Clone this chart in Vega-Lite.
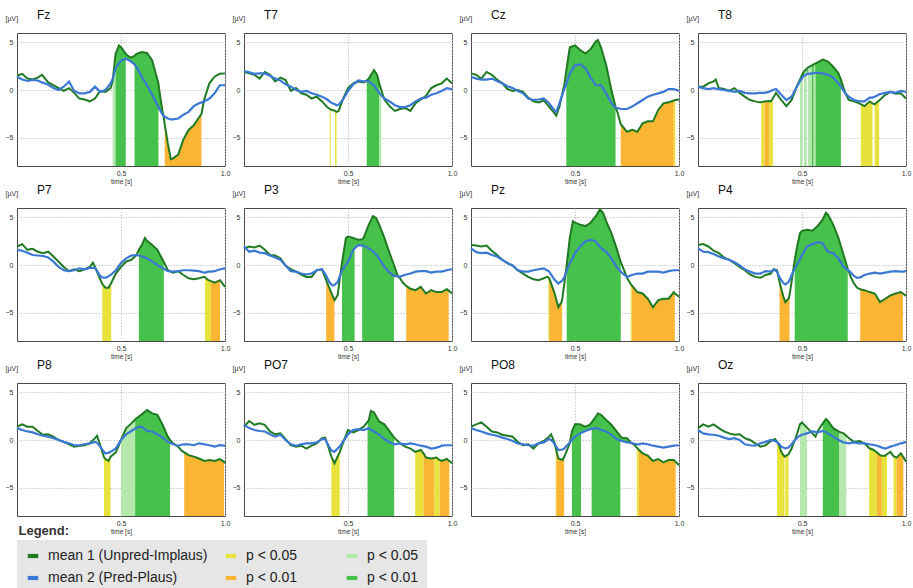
{
"$schema":"https://vega.github.io/schema/vega-lite/v6.json",
"padding":{"left":4,"top":8,"right":2,"bottom":0},
"background":"white",
"title":{"text":"Legend:","orient":"top","anchor":"start","frame":"bounds","offset":0,"dy":529,"dx":14,"fontSize":13,"fontWeight":"bold","color":"#333","font":"Liberation Sans"},
"config":{"font":"Liberation Sans","view":{"stroke":"#4a4a4a","strokeWidth":1},
 "style":{"guide-label":{"dx":20}},
 "axis":{"labelFont":"Liberation Sans","labelColor":"#333","labelFontSize":7,"gridColor":"#bdbdbd","gridDash":[1.5,1.5],"gridWidth":0.8,"domain":false,"ticks":false,"titleFont":"Liberation Sans","titleFontWeight":"normal","titleColor":"#333"}},
"data":{"values":[
{"c":"Fz","t":0,"a":1.5,"b":1.4},{"c":"Fz","t":0.025,"a":1.7,"b":1.1},{"c":"Fz","t":0.05,"a":1.2,"b":0.95},{"c":"Fz","t":0.075,"a":1.1,"b":1.05},{"c":"Fz","t":0.1,"a":1.3,"b":1.0},{"c":"Fz","t":0.12,"a":1.6,"b":0.8},{"c":"Fz","t":0.15,"a":0.8,"b":0.55},{"c":"Fz","t":0.175,"a":0.5,"b":0.2},{"c":"Fz","t":0.2,"a":0.2,"b":0},{"c":"Fz","t":0.225,"a":-0.1,"b":0.35},{"c":"Fz","t":0.25,"a":0.2,"b":0.9},{"c":"Fz","t":0.275,"a":-0.3,"b":-0.1},{"c":"Fz","t":0.3,"a":-0.9,"b":-0.35},{"c":"Fz","t":0.325,"a":-1.0,"b":-0.35},{"c":"Fz","t":0.35,"a":-1.2,"b":-0.2},{"c":"Fz","t":0.375,"a":-0.9,"b":0.35},{"c":"Fz","t":0.4,"a":-0.1,"b":-0.2},{"c":"Fz","t":0.425,"a":-0.2,"b":0},{"c":"Fz","t":0.45,"a":0.2,"b":0.7},
{"c":"Fz","t":0.46,"a":1.0,"b":1.2,"s":"l05","k":1,"f":1},{"c":"Fz","t":0.474,"a":3.8,"b":2.3,"s":"l05","k":1,"f":1},{"c":"Fz","t":0.474,"a":3.8,"b":2.3,"s":"g01","k":2},{"c":"Fz","t":0.49,"a":4.7,"b":2.8,"s":"g01","k":2,"f":1},{"c":"Fz","t":0.5,"a":4.5,"b":3.1,"s":"g01","k":2,"f":1},{"c":"Fz","t":0.523,"a":3.8,"b":3.3,"s":"g01","k":2,"f":1},{"c":"Fz","t":0.545,"a":3.4,"b":3.05,"f":1},{"c":"Fz","t":0.565,"a":3.6,"b":2.7,"s":"g01","k":3,"f":1},{"c":"Fz","t":0.575,"a":3.8,"b":2.4,"s":"g01","k":3,"f":1},{"c":"Fz","t":0.6,"a":4.0,"b":1.4,"s":"g01","k":3,"f":1},{"c":"Fz","t":0.625,"a":3.9,"b":0.5,"s":"g01","k":3,"f":1},{"c":"Fz","t":0.65,"a":3.1,"b":-0.5,"s":"g01","k":3,"f":1},{"c":"Fz","t":0.68,"a":0.7,"b":-1.8,"s":"g01","k":3,"f":1},{"c":"Fz","t":0.69,"a":-0.9,"b":-2.2,"f":1},{"c":"Fz","t":0.7,"a":-2.3,"b":-2.6,"f":1},{"c":"Fz","t":0.705,"a":-2.75,"b":-2.75,"f":1},
{"c":"Fz","t":0.71,"a":-3.6,"b":-2.8,"s":"o01","k":4},{"c":"Fz","t":0.725,"a":-5.6,"b":-3.0,"s":"o01","k":4},{"c":"Fz","t":0.74,"a":-7.3,"b":-3.1,"s":"o01","k":4},{"c":"Fz","t":0.75,"a":-7.2,"b":-3.1,"s":"o01","k":4},{"c":"Fz","t":0.775,"a":-6.8,"b":-3.0,"s":"o01","k":4},{"c":"Fz","t":0.8,"a":-5.2,"b":-2.6,"s":"o01","k":4},{"c":"Fz","t":0.825,"a":-4.2,"b":-2.3,"s":"o01","k":4},{"c":"Fz","t":0.85,"a":-3.7,"b":-1.7,"s":"o01","k":4},{"c":"Fz","t":0.875,"a":-2.9,"b":-1.4,"s":"o01","k":4},{"c":"Fz","t":0.887,"a":-2.5,"b":-1.3,"s":"o01","k":4},
{"c":"Fz","t":0.9,"a":-1.0,"b":-1.2},{"c":"Fz","t":0.925,"a":0.7,"b":-0.9},{"c":"Fz","t":0.95,"a":1.4,"b":-0.35},{"c":"Fz","t":0.975,"a":1.7,"b":0.5},{"c":"Fz","t":1,"a":1.75,"b":0.5},

{"c":"T7","t":0,"a":1.9,"b":2.0},{"c":"T7","t":0.025,"a":1.75,"b":1.85},{"c":"T7","t":0.05,"a":1.6,"b":1.7},{"c":"T7","t":0.075,"a":1.2,"b":1.75},{"c":"T7","t":0.1,"a":1.9,"b":1.75},{"c":"T7","t":0.125,"a":1.6,"b":1.5},{"c":"T7","t":0.15,"a":0.9,"b":1.2},{"c":"T7","t":0.175,"a":1.3,"b":1.0},{"c":"T7","t":0.2,"a":1.05,"b":0.6},{"c":"T7","t":0.225,"a":-0.1,"b":0.35},{"c":"T7","t":0.25,"a":0.2,"b":0},{"c":"T7","t":0.275,"a":-0.35,"b":-0.2},{"c":"T7","t":0.3,"a":-0.5,"b":-0.1},{"c":"T7","t":0.325,"a":-0.9,"b":-0.35},{"c":"T7","t":0.35,"a":-0.7,"b":-0.5},{"c":"T7","t":0.375,"a":-1.2,"b":-0.7},{"c":"T7","t":0.4,"a":-1.8,"b":-1.0},
{"c":"T7","t":0.412,"a":-2.0,"b":-1.2,"s":"y05","k":1},{"c":"T7","t":0.417,"a":-2.05,"b":-1.3,"s":"y05","k":1},{"c":"T7","t":0.425,"a":-2.1,"b":-1.4},{"c":"T7","t":0.438,"a":-2.2,"b":-1.5,"s":"y05","k":2},{"c":"T7","t":0.445,"a":-2.3,"b":-1.6,"s":"y05","k":2},{"c":"T7","t":0.455,"a":-2.2,"b":-1.55},{"c":"T7","t":0.475,"a":-1.0,"b":-1.05},{"c":"T7","t":0.5,"a":0.2,"b":-0.1},{"c":"T7","t":0.525,"a":0.7,"b":0.6},{"c":"T7","t":0.55,"a":0.9,"b":1.0},{"c":"T7","t":0.575,"a":0.8,"b":0.9},
{"c":"T7","t":0.59,"a":1.0,"b":0.9,"s":"g01","k":3,"f":1},{"c":"T7","t":0.6,"a":1.2,"b":0.9,"s":"g01","k":3,"f":1},{"c":"T7","t":0.625,"a":2.1,"b":0.5,"s":"g01","k":3,"f":1},{"c":"T7","t":0.64,"a":1.6,"b":0.0,"s":"g01","k":3,"f":1},{"c":"T7","t":0.65,"a":0.7,"b":-0.3,"s":"g01","k":3,"f":1},{"c":"T7","t":0.65,"a":0.7,"b":-0.3,"s":"l05","k":4},{"c":"T7","t":0.66,"a":0.0,"b":-0.55,"s":"l05","k":4,"f":1},
{"c":"T7","t":0.675,"a":-1.0,"b":-0.9},{"c":"T7","t":0.7,"a":-1.7,"b":-1.2},{"c":"T7","t":0.725,"a":-2.2,"b":-1.6},{"c":"T7","t":0.75,"a":-2.0,"b":-1.8},{"c":"T7","t":0.775,"a":-1.9,"b":-1.8},{"c":"T7","t":0.8,"a":-2.2,"b":-1.6},{"c":"T7","t":0.825,"a":-1.4,"b":-1.2},{"c":"T7","t":0.85,"a":-1.0,"b":-0.9},{"c":"T7","t":0.875,"a":-0.6,"b":-0.8},{"c":"T7","t":0.9,"a":0.2,"b":-0.5},{"c":"T7","t":0.925,"a":0.5,"b":-0.35},{"c":"T7","t":0.95,"a":0.7,"b":-0.1},{"c":"T7","t":0.975,"a":1.2,"b":0.2},{"c":"T7","t":1,"a":0.7,"b":0.1},

{"c":"Cz","t":0,"a":1.75,"b":1.4},{"c":"Cz","t":0.025,"a":1.6,"b":1.2},{"c":"Cz","t":0.05,"a":1.2,"b":1.1},{"c":"Cz","t":0.075,"a":1.9,"b":1.1},{"c":"Cz","t":0.1,"a":1.6,"b":1.2},{"c":"Cz","t":0.125,"a":1.1,"b":0.95},{"c":"Cz","t":0.15,"a":0.7,"b":0.7},{"c":"Cz","t":0.175,"a":0.1,"b":0.4},{"c":"Cz","t":0.2,"a":-0.1,"b":0.2},{"c":"Cz","t":0.225,"a":0,"b":-0.1},{"c":"Cz","t":0.25,"a":-0.2,"b":-0.35},{"c":"Cz","t":0.275,"a":-0.8,"b":-0.9},{"c":"Cz","t":0.3,"a":-1.2,"b":-1.05},{"c":"Cz","t":0.325,"a":-1.3,"b":-1.0},{"c":"Cz","t":0.35,"a":-1.1,"b":-0.9},{"c":"Cz","t":0.375,"a":-1.75,"b":-1.4},{"c":"Cz","t":0.4,"a":-2.4,"b":-2.1},{"c":"Cz","t":0.41,"a":-2.7,"b":-2.3},{"c":"Cz","t":0.425,"a":-1.75,"b":-1.4},{"c":"Cz","t":0.45,"a":0.7,"b":0.2},
{"c":"Cz","t":0.458,"a":2.0,"b":0.6,"s":"g01","k":1},{"c":"Cz","t":0.475,"a":4.5,"b":1.75,"s":"g01","k":1},{"c":"Cz","t":0.5,"a":4.7,"b":2.6,"s":"g01","k":1},{"c":"Cz","t":0.525,"a":4.2,"b":2.7,"s":"g01","k":1},{"c":"Cz","t":0.55,"a":3.85,"b":2.3,"s":"g01","k":1},{"c":"Cz","t":0.575,"a":4.3,"b":1.3,"s":"g01","k":1},{"c":"Cz","t":0.6,"a":5.1,"b":0.5,"s":"g01","k":1},{"c":"Cz","t":0.61,"a":5.25,"b":0.5,"s":"g01","k":1},{"c":"Cz","t":0.625,"a":4.5,"b":0.5,"s":"g01","k":1},{"c":"Cz","t":0.65,"a":2.6,"b":-0.35,"s":"g01","k":1},{"c":"Cz","t":0.675,"a":0,"b":-1.4,"s":"g01","k":1},{"c":"Cz","t":0.695,"a":-1.8,"b":-1.85,"s":"g01","k":1},
{"c":"Cz","t":0.705,"a":-2.4,"b":-1.9},
{"c":"Cz","t":0.72,"a":-3.6,"b":-2.0,"s":"o01","k":2},{"c":"Cz","t":0.75,"a":-4.4,"b":-2.0,"s":"o01","k":2},{"c":"Cz","t":0.775,"a":-4.2,"b":-1.75,"s":"o01","k":2},{"c":"Cz","t":0.8,"a":-4.4,"b":-1.4,"s":"o01","k":2},{"c":"Cz","t":0.825,"a":-3.5,"b":-1.05,"s":"o01","k":2},{"c":"Cz","t":0.85,"a":-3.3,"b":-0.7,"s":"o01","k":2},{"c":"Cz","t":0.875,"a":-3.3,"b":-0.5,"s":"o01","k":2},{"c":"Cz","t":0.9,"a":-2.1,"b":-0.35,"s":"o01","k":2},{"c":"Cz","t":0.925,"a":-1.4,"b":-0.2,"s":"o01","k":2},{"c":"Cz","t":0.95,"a":-1.3,"b":0.1,"s":"o01","k":2},{"c":"Cz","t":0.975,"a":-1.1,"b":0.1,"s":"o01","k":2},{"c":"Cz","t":0.975,"a":-1.1,"b":0.1,"s":"y05","k":3},{"c":"Cz","t":0.982,"a":-1.05,"b":0.05,"s":"y05","k":3},{"c":"Cz","t":1,"a":-1.0,"b":-0.1},

{"c":"T8","t":0,"a":0.35,"b":0.35},{"c":"T8","t":0.025,"a":0.35,"b":0.2},{"c":"T8","t":0.05,"a":0.7,"b":0.1},{"c":"T8","t":0.075,"a":0.9,"b":0.2},{"c":"T8","t":0.085,"a":1.1,"b":0.15},{"c":"T8","t":0.1,"a":0.2,"b":0.1},{"c":"T8","t":0.125,"a":0.1,"b":0},{"c":"T8","t":0.15,"a":-0.1,"b":-0.1},{"c":"T8","t":0.175,"a":0.2,"b":-0.2},{"c":"T8","t":0.2,"a":-0.3,"b":-0.1},{"c":"T8","t":0.225,"a":-0.7,"b":-0.3},{"c":"T8","t":0.25,"a":-1.05,"b":-0.35},{"c":"T8","t":0.275,"a":-1.2,"b":-0.35},{"c":"T8","t":0.295,"a":-1.3,"b":-0.3},
{"c":"T8","t":0.304,"a":-1.3,"b":-0.3,"s":"y05","k":1},{"c":"T8","t":0.32,"a":-1.2,"b":-0.3,"s":"y05","k":1},{"c":"T8","t":0.32,"a":-1.2,"b":-0.3,"s":"o01","k":2},{"c":"T8","t":0.341,"a":-1.15,"b":-0.2,"s":"o01","k":2},{"c":"T8","t":0.341,"a":-1.15,"b":-0.2,"s":"y05","k":3},{"c":"T8","t":0.35,"a":-1.2,"b":-0.1,"s":"y05","k":3},{"c":"T8","t":0.36,"a":-0.9,"b":0.0,"s":"y05","k":3},
{"c":"T8","t":0.375,"a":-0.3,"b":0.1},{"c":"T8","t":0.4,"a":-1.05,"b":-0.5},{"c":"T8","t":0.425,"a":-1.7,"b":-1.05},{"c":"T8","t":0.45,"a":-1.05,"b":-0.7},{"c":"T8","t":0.475,"a":0.35,"b":0.35},
{"c":"T8","t":0.49,"a":1.1,"b":0.9,"s":"l05","k":4,"f":1},{"c":"T8","t":0.503,"a":1.7,"b":1.35,"s":"l05","k":4,"f":1},{"c":"T8","t":0.51,"a":1.95,"b":1.5,"s":"l05","k":5,"f":1},{"c":"T8","t":0.523,"a":2.25,"b":1.65,"s":"l05","k":5,"f":1},{"c":"T8","t":0.528,"a":2.35,"b":1.7,"s":"l05","k":6,"f":1},{"c":"T8","t":0.548,"a":2.6,"b":1.75,"s":"l05","k":6,"f":1},{"c":"T8","t":0.548,"a":2.6,"b":1.75,"s":"g01","k":7},{"c":"T8","t":0.556,"a":2.7,"b":1.75,"s":"g01","k":7,"f":1},{"c":"T8","t":0.556,"a":2.7,"b":1.75,"s":"l05","k":8},{"c":"T8","t":0.565,"a":2.8,"b":1.8,"s":"l05","k":8,"f":1},{"c":"T8","t":0.565,"a":2.8,"b":1.8,"s":"g01","k":9},{"c":"T8","t":0.575,"a":2.9,"b":1.8,"s":"g01","k":9,"f":1},{"c":"T8","t":0.6,"a":3.2,"b":1.75,"s":"g01","k":9,"f":1},{"c":"T8","t":0.625,"a":3.0,"b":1.6,"s":"g01","k":9,"f":1},{"c":"T8","t":0.65,"a":2.45,"b":1.3,"s":"g01","k":9,"f":1},{"c":"T8","t":0.675,"a":1.75,"b":0.7,"s":"g01","k":9,"f":1},{"c":"T8","t":0.687,"a":1.1,"b":0.35,"s":"g01","k":9,"f":1},{"c":"T8","t":0.7,"a":0.2,"b":-0.1,"f":1},{"c":"T8","t":0.71,"a":-0.4,"b":-0.4,"f":1},
{"c":"T8","t":0.725,"a":-1.05,"b":-0.7},{"c":"T8","t":0.75,"a":-1.2,"b":-1.05},{"c":"T8","t":0.775,"a":-1.4,"b":-1.2},
{"c":"T8","t":0.783,"a":-1.5,"b":-1.2,"s":"y05","k":10},{"c":"T8","t":0.8,"a":-1.7,"b":-1.2,"s":"y05","k":10},{"c":"T8","t":0.825,"a":-1.2,"b":-0.8,"s":"y05","k":10},{"c":"T8","t":0.839,"a":-1.4,"b":-0.8,"s":"y05","k":10},{"c":"T8","t":0.849,"a":-1.5,"b":-0.7,"s":"y05","k":11},{"c":"T8","t":0.86,"a":-1.3,"b":-0.6,"s":"y05","k":11},{"c":"T8","t":0.871,"a":-1.1,"b":-0.45,"s":"y05","k":11},
{"c":"T8","t":0.9,"a":-0.5,"b":-0.3},{"c":"T8","t":0.925,"a":-0.2,"b":-0.2},{"c":"T8","t":0.95,"a":-0.4,"b":-0.3},{"c":"T8","t":0.975,"a":-0.35,"b":-0.1},{"c":"T8","t":1,"a":-0.9,"b":-0.2},

{"c":"P7","t":0,"a":1.95,"b":1.6},{"c":"P7","t":0.025,"a":2.2,"b":1.5},{"c":"P7","t":0.05,"a":1.6,"b":1.3},{"c":"P7","t":0.075,"a":1.7,"b":1.05},{"c":"P7","t":0.1,"a":1.4,"b":1.0},{"c":"P7","t":0.125,"a":1.25,"b":0.95},{"c":"P7","t":0.15,"a":1.4,"b":0.8},{"c":"P7","t":0.175,"a":0.9,"b":0.35},{"c":"P7","t":0.2,"a":0.35,"b":-0.2},{"c":"P7","t":0.225,"a":-0.2,"b":-0.55},{"c":"P7","t":0.25,"a":-0.65,"b":-0.65},{"c":"P7","t":0.275,"a":-0.45,"b":-0.55},{"c":"P7","t":0.3,"a":-0.65,"b":-0.35},{"c":"P7","t":0.325,"a":-0.45,"b":-0.45},{"c":"P7","t":0.35,"a":-0.2,"b":-0.3},{"c":"P7","t":0.365,"a":0.25,"b":-0.3},{"c":"P7","t":0.375,"a":-0.2,"b":-0.3},{"c":"P7","t":0.4,"a":-1.5,"b":-1.15},
{"c":"P7","t":0.41,"a":-2.0,"b":-1.3,"s":"y05","k":1},{"c":"P7","t":0.425,"a":-2.4,"b":-1.35,"s":"y05","k":1},{"c":"P7","t":0.44,"a":-2.4,"b":-1.2,"s":"y05","k":1},{"c":"P7","t":0.453,"a":-1.9,"b":-1.0,"s":"y05","k":1},
{"c":"P7","t":0.475,"a":-0.9,"b":-0.55},{"c":"P7","t":0.5,"a":-0.2,"b":0.2},{"c":"P7","t":0.525,"a":0.35,"b":0.7},{"c":"P7","t":0.55,"a":0.55,"b":1.0},{"c":"P7","t":0.575,"a":1.05,"b":1.05},
{"c":"P7","t":0.586,"a":1.6,"b":1.0,"s":"g01","k":2},{"c":"P7","t":0.6,"a":2.1,"b":0.9,"s":"g01","k":2},{"c":"P7","t":0.615,"a":2.85,"b":0.8,"s":"g01","k":2},{"c":"P7","t":0.625,"a":2.55,"b":0.7,"s":"g01","k":2},{"c":"P7","t":0.65,"a":2.1,"b":0.35,"s":"g01","k":2},{"c":"P7","t":0.675,"a":1.6,"b":0,"s":"g01","k":2},{"c":"P7","t":0.7,"a":0.55,"b":-0.35,"s":"g01","k":2},{"c":"P7","t":0.706,"a":0.3,"b":-0.4,"s":"g01","k":2},
{"c":"P7","t":0.725,"a":-0.55,"b":-0.65},{"c":"P7","t":0.75,"a":-0.8,"b":-0.7},{"c":"P7","t":0.775,"a":-0.65,"b":-0.65},{"c":"P7","t":0.8,"a":-1.05,"b":-0.55},{"c":"P7","t":0.825,"a":-1.4,"b":-0.55},{"c":"P7","t":0.85,"a":-1.5,"b":-0.6},{"c":"P7","t":0.875,"a":-1.4,"b":-0.65},{"c":"P7","t":0.9,"a":-1.25,"b":-0.8},
{"c":"P7","t":0.904,"a":-1.3,"b":-0.8,"s":"y05","k":3},{"c":"P7","t":0.92,"a":-1.6,"b":-0.7,"s":"y05","k":3},{"c":"P7","t":0.933,"a":-1.7,"b":-0.7,"s":"y05","k":3},{"c":"P7","t":0.933,"a":-1.7,"b":-0.7,"s":"o01","k":4},{"c":"P7","t":0.95,"a":-1.85,"b":-0.65,"s":"o01","k":4},{"c":"P7","t":0.976,"a":-1.6,"b":-0.45,"s":"o01","k":4},{"c":"P7","t":1,"a":-2.3,"b":-0.35},

{"c":"P3","t":0,"a":1.75,"b":1.95},{"c":"P3","t":0.025,"a":1.95,"b":1.4},{"c":"P3","t":0.05,"a":1.85,"b":1.5},{"c":"P3","t":0.075,"a":2.05,"b":1.3},{"c":"P3","t":0.1,"a":1.6,"b":1.25},{"c":"P3","t":0.125,"a":1.05,"b":1.0},{"c":"P3","t":0.15,"a":1.0,"b":0.8},{"c":"P3","t":0.175,"a":0.7,"b":0.55},{"c":"P3","t":0.2,"a":-0.05,"b":-0.05},{"c":"P3","t":0.225,"a":-0.45,"b":-0.65},{"c":"P3","t":0.25,"a":-0.7,"b":-0.7},{"c":"P3","t":0.275,"a":-1.0,"b":-0.9},{"c":"P3","t":0.3,"a":-1.25,"b":-1.0},{"c":"P3","t":0.325,"a":-1.25,"b":-0.9},{"c":"P3","t":0.35,"a":-0.55,"b":-0.55},{"c":"P3","t":0.375,"a":-0.45,"b":-0.45},
{"c":"P3","t":0.395,"a":-1.6,"b":-1.1,"s":"o01","k":1},{"c":"P3","t":0.41,"a":-2.4,"b":-1.8,"s":"o01","k":1},{"c":"P3","t":0.425,"a":-3.2,"b":-2.15,"s":"o01","k":1},{"c":"P3","t":0.435,"a":-3.7,"b":-2.1,"s":"o01","k":1},
{"c":"P3","t":0.45,"a":-3.2,"b":-1.8},
{"c":"P3","t":0.471,"a":0.2,"b":-0.6,"s":"g01","k":2,"f":1},{"c":"P3","t":0.49,"a":2.85,"b":0.0,"s":"g01","k":2,"f":1},{"c":"P3","t":0.5,"a":3.0,"b":0.35,"s":"g01","k":2,"f":1},{"c":"P3","t":0.525,"a":2.85,"b":1.6,"s":"g01","k":2,"f":1},{"c":"P3","t":0.532,"a":2.8,"b":1.75,"s":"g01","k":2,"f":1},{"c":"P3","t":0.55,"a":2.65,"b":2.1,"f":1},
{"c":"P3","t":0.568,"a":2.7,"b":2.05,"s":"g01","k":3,"f":1},{"c":"P3","t":0.575,"a":2.85,"b":2.05,"s":"g01","k":3,"f":1},{"c":"P3","t":0.6,"a":4.25,"b":1.75,"s":"g01","k":3,"f":1},{"c":"P3","t":0.62,"a":5.15,"b":1.45,"s":"g01","k":3,"f":1},{"c":"P3","t":0.635,"a":4.95,"b":1.1,"s":"g01","k":3,"f":1},{"c":"P3","t":0.65,"a":4.25,"b":0.7,"s":"g01","k":3,"f":1},{"c":"P3","t":0.675,"a":2.85,"b":-0.2,"s":"g01","k":3,"f":1},{"c":"P3","t":0.7,"a":1.25,"b":-0.8,"s":"g01","k":3,"f":1},{"c":"P3","t":0.721,"a":0.0,"b":-1.15,"s":"g01","k":3,"f":1},{"c":"P3","t":0.74,"a":-1.2,"b":-1.2,"f":1},
{"c":"P3","t":0.75,"a":-1.4,"b":-1.25},{"c":"P3","t":0.765,"a":-1.9,"b":-1.1},
{"c":"P3","t":0.78,"a":-2.2,"b":-1.0,"s":"o01","k":4},{"c":"P3","t":0.8,"a":-2.5,"b":-0.9,"s":"o01","k":4},{"c":"P3","t":0.825,"a":-2.65,"b":-0.7,"s":"o01","k":4},{"c":"P3","t":0.85,"a":-2.3,"b":-0.65,"s":"o01","k":4},{"c":"P3","t":0.875,"a":-3.0,"b":-0.65,"s":"o01","k":4},{"c":"P3","t":0.9,"a":-2.65,"b":-0.8,"s":"o01","k":4},{"c":"P3","t":0.925,"a":-2.85,"b":-0.7,"s":"o01","k":4},{"c":"P3","t":0.95,"a":-2.85,"b":-0.7,"s":"o01","k":4},{"c":"P3","t":0.975,"a":-2.55,"b":-0.55,"s":"o01","k":4},{"c":"P3","t":0.984,"a":-2.7,"b":-0.5,"s":"o01","k":4},{"c":"P3","t":1,"a":-3.0,"b":-0.45},

{"c":"Pz","t":0,"a":2.1,"b":1.75},{"c":"Pz","t":0.025,"a":2.05,"b":1.35},{"c":"Pz","t":0.05,"a":1.95,"b":1.25},{"c":"Pz","t":0.075,"a":2.05,"b":1.3},{"c":"Pz","t":0.1,"a":1.5,"b":1.05},{"c":"Pz","t":0.125,"a":1.05,"b":0.9},{"c":"Pz","t":0.15,"a":0.55,"b":0.55},{"c":"Pz","t":0.175,"a":0.2,"b":0.2},{"c":"Pz","t":0.2,"a":-0.05,"b":-0.05},{"c":"Pz","t":0.225,"a":-0.55,"b":-0.55},{"c":"Pz","t":0.25,"a":-0.9,"b":-0.7},{"c":"Pz","t":0.275,"a":-1.25,"b":-0.7},{"c":"Pz","t":0.3,"a":-1.5,"b":-0.55},{"c":"Pz","t":0.325,"a":-1.6,"b":-0.45},{"c":"Pz","t":0.35,"a":-1.4,"b":-0.35},{"c":"Pz","t":0.365,"a":-1.25,"b":-0.55},
{"c":"Pz","t":0.372,"a":-1.3,"b":-0.62,"s":"y05","k":1},{"c":"Pz","t":0.376,"a":-1.4,"b":-0.7,"s":"y05","k":1},{"c":"Pz","t":0.376,"a":-1.4,"b":-0.7,"s":"o01","k":2},{"c":"Pz","t":0.4,"a":-2.85,"b":-1.5,"s":"o01","k":2},{"c":"Pz","t":0.42,"a":-4.45,"b":-1.95,"s":"o01","k":2},{"c":"Pz","t":0.435,"a":-3.9,"b":-1.7,"s":"o01","k":2},{"c":"Pz","t":0.438,"a":-3.7,"b":-1.65,"s":"o01","k":2},
{"c":"Pz","t":0.45,"a":-1.75,"b":-1.25},
{"c":"Pz","t":0.46,"a":0.0,"b":-0.6,"s":"g01","k":3},{"c":"Pz","t":0.475,"a":2.85,"b":0.2,"s":"g01","k":3},{"c":"Pz","t":0.49,"a":4.6,"b":0.8,"s":"g01","k":3},{"c":"Pz","t":0.5,"a":4.45,"b":1.25,"s":"g01","k":3},{"c":"Pz","t":0.525,"a":4.25,"b":1.95,"s":"g01","k":3},{"c":"Pz","t":0.55,"a":4.1,"b":2.5,"s":"g01","k":3},{"c":"Pz","t":0.575,"a":4.45,"b":2.65,"s":"g01","k":3},{"c":"Pz","t":0.6,"a":5.15,"b":2.5,"s":"g01","k":3},{"c":"Pz","t":0.62,"a":5.85,"b":1.9,"s":"g01","k":3},{"c":"Pz","t":0.635,"a":5.5,"b":1.6,"s":"g01","k":3},{"c":"Pz","t":0.65,"a":4.6,"b":1.4,"s":"g01","k":3},{"c":"Pz","t":0.675,"a":3.35,"b":0.7,"s":"g01","k":3},{"c":"Pz","t":0.7,"a":1.75,"b":-0.2,"s":"g01","k":3},{"c":"Pz","t":0.72,"a":0.3,"b":-0.7,"s":"g01","k":3},
{"c":"Pz","t":0.735,"a":-0.5,"b":-1.0},{"c":"Pz","t":0.75,"a":-1.35,"b":-1.25},
{"c":"Pz","t":0.768,"a":-2.0,"b":-1.1,"s":"y05","k":4},{"c":"Pz","t":0.773,"a":-2.15,"b":-1.05,"s":"y05","k":4},{"c":"Pz","t":0.773,"a":-2.15,"b":-1.05,"s":"o01","k":5},{"c":"Pz","t":0.8,"a":-2.85,"b":-0.9,"s":"o01","k":5},{"c":"Pz","t":0.825,"a":-3.0,"b":-0.9,"s":"o01","k":5},{"c":"Pz","t":0.85,"a":-3.55,"b":-0.7,"s":"o01","k":5},{"c":"Pz","t":0.875,"a":-4.45,"b":-0.7,"s":"o01","k":5},{"c":"Pz","t":0.9,"a":-3.7,"b":-0.7,"s":"o01","k":5},{"c":"Pz","t":0.925,"a":-3.55,"b":-0.8,"s":"o01","k":5},{"c":"Pz","t":0.95,"a":-3.55,"b":-0.65,"s":"o01","k":5},{"c":"Pz","t":0.975,"a":-2.85,"b":-0.55,"s":"o01","k":5},{"c":"Pz","t":0.98,"a":-3.0,"b":-0.55,"s":"o01","k":5},{"c":"Pz","t":1,"a":-3.35,"b":-0.55},

{"c":"P4","t":0,"a":2.1,"b":1.75},{"c":"P4","t":0.025,"a":2.2,"b":1.4},{"c":"P4","t":0.05,"a":1.95,"b":1.35},{"c":"P4","t":0.075,"a":1.5,"b":1.15},{"c":"P4","t":0.1,"a":1.25,"b":0.9},{"c":"P4","t":0.125,"a":0.8,"b":0.7},{"c":"P4","t":0.15,"a":0.55,"b":0.55},{"c":"P4","t":0.175,"a":0.2,"b":0.3},{"c":"P4","t":0.2,"a":-0.2,"b":-0.05},{"c":"P4","t":0.225,"a":-0.55,"b":-0.45},{"c":"P4","t":0.25,"a":-1.0,"b":-0.7},{"c":"P4","t":0.275,"a":-1.25,"b":-0.9},{"c":"P4","t":0.3,"a":-1.35,"b":-0.9},{"c":"P4","t":0.325,"a":-1.05,"b":-0.65},{"c":"P4","t":0.35,"a":-0.9,"b":-0.7},{"c":"P4","t":0.365,"a":-0.45,"b":-0.45},{"c":"P4","t":0.38,"a":-0.55,"b":-0.7},
{"c":"P4","t":0.392,"a":-1.8,"b":-1.3,"s":"o01","k":1},{"c":"P4","t":0.41,"a":-3.3,"b":-1.9,"s":"o01","k":1},{"c":"P4","t":0.42,"a":-3.9,"b":-2.05,"s":"o01","k":1},{"c":"P4","t":0.435,"a":-3.55,"b":-1.8,"s":"o01","k":1},{"c":"P4","t":0.44,"a":-3.2,"b":-1.6,"s":"o01","k":1},
{"c":"P4","t":0.45,"a":-1.75,"b":-1.05},
{"c":"P4","t":0.465,"a":0.5,"b":-0.4,"s":"g01","k":2},{"c":"P4","t":0.475,"a":1.75,"b":0,"s":"g01","k":2},{"c":"P4","t":0.49,"a":3.35,"b":0.6,"s":"g01","k":2},{"c":"P4","t":0.5,"a":3.6,"b":1.05,"s":"g01","k":2},{"c":"P4","t":0.525,"a":3.7,"b":1.95,"s":"g01","k":2},{"c":"P4","t":0.55,"a":3.6,"b":2.2,"s":"g01","k":2},{"c":"P4","t":0.575,"a":4.1,"b":2.4,"s":"g01","k":2},{"c":"P4","t":0.6,"a":4.8,"b":2.3,"s":"g01","k":2},{"c":"P4","t":0.615,"a":5.5,"b":1.7,"s":"g01","k":2},{"c":"P4","t":0.625,"a":5.3,"b":1.4,"s":"g01","k":2},{"c":"P4","t":0.65,"a":4.25,"b":1.25,"s":"g01","k":2},{"c":"P4","t":0.675,"a":2.85,"b":0.7,"s":"g01","k":2},{"c":"P4","t":0.7,"a":1.05,"b":-0.2,"s":"g01","k":2},{"c":"P4","t":0.72,"a":-0.4,"b":-0.5,"s":"g01","k":2},
{"c":"P4","t":0.735,"a":-1.3,"b":-0.8},{"c":"P4","t":0.75,"a":-1.95,"b":-1.15},{"c":"P4","t":0.765,"a":-2.4,"b":-1.35},
{"c":"P4","t":0.78,"a":-2.55,"b":-1.3,"s":"o01","k":3},{"c":"P4","t":0.8,"a":-2.65,"b":-1.05,"s":"o01","k":3},{"c":"P4","t":0.825,"a":-2.85,"b":-0.9,"s":"o01","k":3},{"c":"P4","t":0.85,"a":-3.0,"b":-0.8,"s":"o01","k":3},{"c":"P4","t":0.875,"a":-3.9,"b":-0.9,"s":"o01","k":3},{"c":"P4","t":0.9,"a":-3.55,"b":-0.8,"s":"o01","k":3},{"c":"P4","t":0.925,"a":-3.2,"b":-0.7,"s":"o01","k":3},{"c":"P4","t":0.95,"a":-3.0,"b":-0.65,"s":"o01","k":3},{"c":"P4","t":0.975,"a":-2.85,"b":-0.7,"s":"o01","k":3},{"c":"P4","t":0.985,"a":-3.0,"b":-0.7,"s":"o01","k":3},{"c":"P4","t":1,"a":-3.25,"b":-0.65},

{"c":"P8","t":0,"a":1.4,"b":1.25},{"c":"P8","t":0.025,"a":1.65,"b":1.05},{"c":"P8","t":0.05,"a":1.4,"b":0.9},{"c":"P8","t":0.075,"a":1.4,"b":0.8},{"c":"P8","t":0.1,"a":0.95,"b":0.6},{"c":"P8","t":0.125,"a":0.55,"b":0.45},{"c":"P8","t":0.15,"a":0.6,"b":0.35},{"c":"P8","t":0.175,"a":0.35,"b":0.2},{"c":"P8","t":0.2,"a":0,"b":0},{"c":"P8","t":0.225,"a":-0.2,"b":-0.2},{"c":"P8","t":0.25,"a":-0.45,"b":-0.35},{"c":"P8","t":0.275,"a":-0.7,"b":-0.55},{"c":"P8","t":0.3,"a":-0.6,"b":-0.55},{"c":"P8","t":0.325,"a":-0.55,"b":-0.45},{"c":"P8","t":0.35,"a":-0.35,"b":-0.35},{"c":"P8","t":0.375,"a":0.2,"b":-0.2},{"c":"P8","t":0.385,"a":0.45,"b":-0.3},{"c":"P8","t":0.4,"a":-0.55,"b":-0.7},
{"c":"P8","t":0.418,"a":-1.8,"b":-1.25,"s":"y05","k":1},{"c":"P8","t":0.425,"a":-2.0,"b":-1.4,"s":"y05","k":1},{"c":"P8","t":0.44,"a":-2.2,"b":-1.35,"s":"y05","k":1},{"c":"P8","t":0.45,"a":-1.75,"b":-1.25,"s":"y05","k":1},
{"c":"P8","t":0.475,"a":-1.3,"b":-0.9},
{"c":"P8","t":0.5,"a":0,"b":0,"s":"l05","k":2},{"c":"P8","t":0.525,"a":1.25,"b":0.6,"s":"l05","k":2},{"c":"P8","t":0.55,"a":1.75,"b":0.95,"s":"l05","k":2},{"c":"P8","t":0.568,"a":2.15,"b":1.2,"s":"l05","k":2},{"c":"P8","t":0.568,"a":2.15,"b":1.2,"s":"g01","k":3},{"c":"P8","t":0.575,"a":2.3,"b":1.3,"s":"g01","k":3},{"c":"P8","t":0.6,"a":2.7,"b":1.4,"s":"g01","k":3},{"c":"P8","t":0.625,"a":3.15,"b":0.95,"s":"g01","k":3},{"c":"P8","t":0.65,"a":2.8,"b":0.9,"s":"g01","k":3},{"c":"P8","t":0.675,"a":2.65,"b":0.6,"s":"g01","k":3},{"c":"P8","t":0.7,"a":1.6,"b":0.25,"s":"g01","k":3},{"c":"P8","t":0.725,"a":0.35,"b":-0.2,"s":"g01","k":3},{"c":"P8","t":0.736,"a":0.0,"b":-0.3,"s":"g01","k":3},
{"c":"P8","t":0.75,"a":-0.35,"b":-0.45},{"c":"P8","t":0.775,"a":-0.7,"b":-0.6},{"c":"P8","t":0.79,"a":-1.1,"b":-0.5},
{"c":"P8","t":0.804,"a":-1.3,"b":-0.45,"s":"o01","k":4},{"c":"P8","t":0.825,"a":-1.6,"b":-0.45,"s":"o01","k":4},{"c":"P8","t":0.85,"a":-1.75,"b":-0.55,"s":"o01","k":4},{"c":"P8","t":0.875,"a":-1.95,"b":-0.35,"s":"o01","k":4},{"c":"P8","t":0.9,"a":-2.2,"b":-0.45,"s":"o01","k":4},{"c":"P8","t":0.925,"a":-2.1,"b":-0.55,"s":"o01","k":4},{"c":"P8","t":0.95,"a":-2.2,"b":-0.7,"s":"o01","k":4},{"c":"P8","t":0.975,"a":-2.0,"b":-0.55,"s":"o01","k":4},{"c":"P8","t":0.995,"a":-2.3,"b":-0.6,"s":"o01","k":4},{"c":"P8","t":1,"a":-2.45,"b":-0.6},

{"c":"PO7","t":0,"a":1.4,"b":1.6},{"c":"PO7","t":0.025,"a":2.0,"b":1.25},{"c":"PO7","t":0.05,"a":1.6,"b":1.05},{"c":"PO7","t":0.075,"a":1.75,"b":0.95},{"c":"PO7","t":0.1,"a":1.6,"b":0.9},{"c":"PO7","t":0.125,"a":0.9,"b":0.6},{"c":"PO7","t":0.15,"a":0.6,"b":0.35},{"c":"PO7","t":0.175,"a":0.7,"b":0.55},{"c":"PO7","t":0.2,"a":0.1,"b":0},{"c":"PO7","t":0.225,"a":-0.55,"b":-0.45},{"c":"PO7","t":0.25,"a":-0.7,"b":-0.6},{"c":"PO7","t":0.275,"a":-0.6,"b":-0.45},{"c":"PO7","t":0.3,"a":-0.9,"b":-0.35},{"c":"PO7","t":0.325,"a":-0.6,"b":-0.35},{"c":"PO7","t":0.35,"a":-0.35,"b":-0.25},{"c":"PO7","t":0.375,"a":0.2,"b":0.1},{"c":"PO7","t":0.39,"a":0.25,"b":0.1},{"c":"PO7","t":0.4,"a":-0.35,"b":-0.35},
{"c":"PO7","t":0.42,"a":-1.75,"b":-1.1,"s":"y05","k":1},{"c":"PO7","t":0.435,"a":-2.45,"b":-1.25,"s":"y05","k":1},{"c":"PO7","t":0.45,"a":-1.75,"b":-0.9,"s":"y05","k":1},{"c":"PO7","t":0.46,"a":-1.3,"b":-0.7,"s":"y05","k":1},
{"c":"PO7","t":0.475,"a":-0.35,"b":-0.2},{"c":"PO7","t":0.5,"a":1.05,"b":0.6},{"c":"PO7","t":0.525,"a":0.8,"b":1.05},{"c":"PO7","t":0.55,"a":1.05,"b":1.15},{"c":"PO7","t":0.575,"a":1.4,"b":1.05},
{"c":"PO7","t":0.594,"a":1.9,"b":1.2,"s":"g01","k":2},{"c":"PO7","t":0.6,"a":2.1,"b":1.25,"s":"g01","k":2},{"c":"PO7","t":0.61,"a":3.05,"b":1.1,"s":"g01","k":2},{"c":"PO7","t":0.625,"a":2.9,"b":0.9,"s":"g01","k":2},{"c":"PO7","t":0.65,"a":1.95,"b":0.55,"s":"g01","k":2},{"c":"PO7","t":0.675,"a":1.65,"b":0.1,"s":"g01","k":2},{"c":"PO7","t":0.7,"a":0.9,"b":-0.25,"s":"g01","k":2},{"c":"PO7","t":0.722,"a":0.25,"b":-0.45,"s":"g01","k":2},
{"c":"PO7","t":0.75,"a":-0.35,"b":-0.35},{"c":"PO7","t":0.775,"a":-0.7,"b":-0.45},{"c":"PO7","t":0.8,"a":-0.9,"b":-0.35},
{"c":"PO7","t":0.823,"a":-1.25,"b":-0.45,"s":"y05","k":3},{"c":"PO7","t":0.85,"a":-1.05,"b":-0.6,"s":"y05","k":3},{"c":"PO7","t":0.863,"a":-1.4,"b":-0.65,"s":"y05","k":3},{"c":"PO7","t":0.863,"a":-1.4,"b":-0.65,"s":"o01","k":4},{"c":"PO7","t":0.875,"a":-1.85,"b":-0.7,"s":"o01","k":4},{"c":"PO7","t":0.9,"a":-1.95,"b":-0.9,"s":"o01","k":4},{"c":"PO7","t":0.915,"a":-1.9,"b":-0.85,"s":"o01","k":4},{"c":"PO7","t":0.915,"a":-1.9,"b":-0.85,"s":"y05","k":5},{"c":"PO7","t":0.925,"a":-1.85,"b":-0.8,"s":"y05","k":5},{"c":"PO7","t":0.94,"a":-2.1,"b":-0.7,"s":"y05","k":5},{"c":"PO7","t":0.94,"a":-2.1,"b":-0.7,"s":"o01","k":6},{"c":"PO7","t":0.95,"a":-2.2,"b":-0.6,"s":"o01","k":6},{"c":"PO7","t":0.975,"a":-2.0,"b":-0.55,"s":"o01","k":6},{"c":"PO7","t":0.987,"a":-2.2,"b":-0.55,"s":"o01","k":6},{"c":"PO7","t":1,"a":-2.45,"b":-0.55},

{"c":"PO8","t":0,"a":1.4,"b":1.25},{"c":"PO8","t":0.025,"a":1.65,"b":1.05},{"c":"PO8","t":0.05,"a":1.85,"b":0.9},{"c":"PO8","t":0.075,"a":1.4,"b":0.7},{"c":"PO8","t":0.1,"a":0.9,"b":0.55},{"c":"PO8","t":0.125,"a":0.8,"b":0.45},{"c":"PO8","t":0.15,"a":0.55,"b":0.25},{"c":"PO8","t":0.175,"a":0.45,"b":0.1},{"c":"PO8","t":0.2,"a":0.35,"b":-0.1},{"c":"PO8","t":0.225,"a":-0.2,"b":-0.35},{"c":"PO8","t":0.25,"a":-0.55,"b":-0.45},{"c":"PO8","t":0.275,"a":-0.45,"b":-0.55},{"c":"PO8","t":0.3,"a":-0.9,"b":-0.6},{"c":"PO8","t":0.325,"a":-0.35,"b":-0.35},{"c":"PO8","t":0.35,"a":-0.1,"b":-0.25},{"c":"PO8","t":0.375,"a":0.35,"b":0.1},{"c":"PO8","t":0.385,"a":0.6,"b":0.0},{"c":"PO8","t":0.4,"a":-0.2,"b":-0.35},
{"c":"PO8","t":0.407,"a":-0.8,"b":-0.6,"s":"y05","k":1},{"c":"PO8","t":0.41,"a":-1.1,"b":-0.7,"s":"y05","k":1},{"c":"PO8","t":0.41,"a":-1.1,"b":-0.7,"s":"o01","k":2},{"c":"PO8","t":0.42,"a":-1.95,"b":-1.05,"s":"o01","k":2},{"c":"PO8","t":0.44,"a":-2.1,"b":-1.0,"s":"o01","k":2},{"c":"PO8","t":0.448,"a":-1.8,"b":-0.9,"s":"o01","k":2},
{"c":"PO8","t":0.475,"a":-0.35,"b":-0.25},
{"c":"PO8","t":0.485,"a":0.9,"b":0.0,"s":"g01","k":3,"f":1},{"c":"PO8","t":0.5,"a":1.65,"b":0.35,"s":"g01","k":3,"f":1},{"c":"PO8","t":0.525,"a":1.65,"b":0.7,"s":"g01","k":3,"f":1},{"c":"PO8","t":0.529,"a":1.6,"b":0.75,"s":"g01","k":3,"f":1},{"c":"PO8","t":0.55,"a":1.4,"b":0.95,"f":1},{"c":"PO8","t":0.57,"a":1.6,"b":1.1,"f":1},
{"c":"PO8","t":0.58,"a":1.85,"b":1.18,"s":"g01","k":4,"f":1},{"c":"PO8","t":0.6,"a":2.45,"b":1.25,"s":"g01","k":4,"f":1},{"c":"PO8","t":0.61,"a":2.8,"b":1.2,"s":"g01","k":4,"f":1},{"c":"PO8","t":0.625,"a":2.65,"b":1.05,"s":"g01","k":4,"f":1},{"c":"PO8","t":0.65,"a":2.1,"b":0.9,"s":"g01","k":4,"f":1},{"c":"PO8","t":0.675,"a":1.6,"b":0.55,"s":"g01","k":4,"f":1},{"c":"PO8","t":0.7,"a":0.9,"b":0.1,"s":"g01","k":4,"f":1},{"c":"PO8","t":0.718,"a":0.4,"b":-0.05,"s":"g01","k":4,"f":1},
{"c":"PO8","t":0.725,"a":0.25,"b":-0.1,"f":1},{"c":"PO8","t":0.75,"a":0.2,"b":-0.25,"f":1},{"c":"PO8","t":0.77,"a":-0.3,"b":-0.3,"f":1},{"c":"PO8","t":0.785,"a":-0.5,"b":-0.4},
{"c":"PO8","t":0.797,"a":-0.8,"b":-0.45,"s":"y05","k":5},{"c":"PO8","t":0.806,"a":-1.0,"b":-0.45,"s":"y05","k":5},{"c":"PO8","t":0.806,"a":-1.0,"b":-0.45,"s":"o01","k":6},{"c":"PO8","t":0.825,"a":-1.4,"b":-0.35,"s":"o01","k":6},{"c":"PO8","t":0.85,"a":-1.65,"b":-0.45,"s":"o01","k":6},{"c":"PO8","t":0.875,"a":-2.2,"b":-0.6,"s":"o01","k":6},{"c":"PO8","t":0.9,"a":-2.0,"b":-0.7,"s":"o01","k":6},{"c":"PO8","t":0.925,"a":-2.35,"b":-0.8,"s":"o01","k":6},{"c":"PO8","t":0.95,"a":-2.1,"b":-0.7,"s":"o01","k":6},{"c":"PO8","t":0.975,"a":-2.1,"b":-0.6,"s":"o01","k":6},{"c":"PO8","t":0.984,"a":-2.3,"b":-0.58,"s":"o01","k":6},{"c":"PO8","t":1,"a":-2.65,"b":-0.55},

{"c":"Oz","t":0,"a":1.25,"b":1.05},{"c":"Oz","t":0.025,"a":1.65,"b":0.7},{"c":"Oz","t":0.05,"a":1.4,"b":0.6},{"c":"Oz","t":0.075,"a":1.65,"b":0.55},{"c":"Oz","t":0.1,"a":1.25,"b":0.45},{"c":"Oz","t":0.125,"a":0.9,"b":0.25},{"c":"Oz","t":0.15,"a":0.7,"b":0.1},{"c":"Oz","t":0.175,"a":0.55,"b":0.2},{"c":"Oz","t":0.2,"a":0.6,"b":0},{"c":"Oz","t":0.225,"a":0.2,"b":-0.45},{"c":"Oz","t":0.25,"a":0,"b":-0.55},{"c":"Oz","t":0.275,"a":-0.35,"b":-0.6},{"c":"Oz","t":0.3,"a":-0.7,"b":-0.35},{"c":"Oz","t":0.325,"a":-0.55,"b":-0.2},{"c":"Oz","t":0.35,"a":-0.1,"b":0},{"c":"Oz","t":0.37,"a":0.1,"b":-0.1},
{"c":"Oz","t":0.38,"a":-0.2,"b":-0.2,"s":"y05","k":1},{"c":"Oz","t":0.39,"a":-0.55,"b":-0.4,"s":"y05","k":1},{"c":"Oz","t":0.4,"a":-1.25,"b":-0.7,"s":"y05","k":1},{"c":"Oz","t":0.416,"a":-1.75,"b":-0.85,"s":"y05","k":1},{"c":"Oz","t":0.42,"a":-1.7,"b":-0.88,"s":"y05","k":2},{"c":"Oz","t":0.435,"a":-1.5,"b":-0.8,"s":"y05","k":2},
{"c":"Oz","t":0.45,"a":-0.9,"b":-0.45},{"c":"Oz","t":0.475,"a":0.55,"b":0.2},
{"c":"Oz","t":0.49,"a":1.65,"b":0.45,"s":"l05","k":3},{"c":"Oz","t":0.5,"a":1.85,"b":0.55,"s":"l05","k":3},{"c":"Oz","t":0.524,"a":1.3,"b":0.7,"s":"l05","k":3},
{"c":"Oz","t":0.55,"a":0.7,"b":0.9},{"c":"Oz","t":0.565,"a":0.35,"b":0.85},{"c":"Oz","t":0.575,"a":0.9,"b":0.8},
{"c":"Oz","t":0.6,"a":1.75,"b":0.95,"s":"g01","k":4},{"c":"Oz","t":0.615,"a":2.2,"b":0.85,"s":"g01","k":4},{"c":"Oz","t":0.625,"a":2.0,"b":0.7,"s":"g01","k":4},{"c":"Oz","t":0.65,"a":1.25,"b":0.35,"s":"g01","k":4},{"c":"Oz","t":0.68,"a":0.85,"b":-0.05,"s":"g01","k":4},{"c":"Oz","t":0.68,"a":0.85,"b":-0.05,"s":"l05","k":5},{"c":"Oz","t":0.7,"a":0.7,"b":-0.25,"s":"l05","k":5},{"c":"Oz","t":0.713,"a":0.45,"b":-0.3,"s":"l05","k":5},
{"c":"Oz","t":0.725,"a":0.2,"b":-0.35},{"c":"Oz","t":0.75,"a":-0.2,"b":-0.25},{"c":"Oz","t":0.775,"a":-0.1,"b":-0.35},{"c":"Oz","t":0.8,"a":-0.35,"b":-0.35},
{"c":"Oz","t":0.823,"a":-0.85,"b":-0.45,"s":"y05","k":6},{"c":"Oz","t":0.84,"a":-1.0,"b":-0.5,"s":"y05","k":6},{"c":"Oz","t":0.86,"a":-1.3,"b":-0.6,"s":"y05","k":6},{"c":"Oz","t":0.86,"a":-1.3,"b":-0.6,"s":"o01","k":7},{"c":"Oz","t":0.875,"a":-1.6,"b":-0.7,"s":"o01","k":7},{"c":"Oz","t":0.884,"a":-1.65,"b":-0.8,"s":"o01","k":7},{"c":"Oz","t":0.884,"a":-1.65,"b":-0.8,"s":"y05","k":8},{"c":"Oz","t":0.9,"a":-1.65,"b":-0.9,"s":"y05","k":8},{"c":"Oz","t":0.908,"a":-1.5,"b":-0.85,"s":"y05","k":8},
{"c":"Oz","t":0.925,"a":-1.25,"b":-0.7},
{"c":"Oz","t":0.94,"a":-1.7,"b":-0.6,"s":"y05","k":9},{"c":"Oz","t":0.955,"a":-1.85,"b":-0.5,"s":"y05","k":9},{"c":"Oz","t":0.955,"a":-1.85,"b":-0.5,"s":"o01","k":10},{"c":"Oz","t":0.975,"a":-1.4,"b":-0.35,"s":"o01","k":10},{"c":"Oz","t":0.987,"a":-1.8,"b":-0.3,"s":"o01","k":10},{"c":"Oz","t":1,"a":-2.3,"b":-0.2}
]},
"facet":{"field":"c","type":"nominal","sort":["Fz","T7","Cz","T8","P7","P3","Pz","P4","P8","PO7","PO8","Oz"],
 "header":{"title":null,"labelOrient":"top","labelAnchor":"start","labelAlign":"left","labelFont":"Liberation Sans","labelFontSize":12,"labelColor":"#111","labelPadding":-8}},
"columns":4,
"spacing":{"row":42,"column":19},
"bounds":"flush",
"resolve":{"axis":{"x":"independent","y":"independent"}},
"spec":{
 "width":208,"height":133,
 "encoding":{"x":{"field":"t","type":"quantitative","scale":{"domain":[0,1],"nice":false,"zero":false},
   "axis":{"values":[0.5,1],"format":".1f","title":"time [s]","titleFontSize":6.5,"titlePadding":2,"labelPadding":3,"labelOffset":-20,"labelFlush":false,"grid":true}}},
 "layer":[
  {"transform":[{"filter":"datum.f == 1"}],"mark":{"type":"area","color":"#46c14c","opacity":1},
   "encoding":{"y":{"field":"a","type":"quantitative","title":"[µV]","scale":{"domain":[-8,6],"nice":false,"zero":false},
     "axis":{"values":[-5,0,5],"format":"d","titleAngle":0,"titleAlign":"left","titleBaseline":"alphabetic","titleX":-12,"titleY":-13,"titleFontSize":7,"labelPadding":24,"grid":true}},
    "y2":{"field":"b"}}},
  {"transform":[{"filter":"isValid(datum.s)"}],"mark":{"type":"area","opacity":1},
   "encoding":{"y":{"field":"a","type":"quantitative","title":"[µV]"},"y2":{"datum":-8},
    "detail":{"field":"k","type":"nominal"},
    "color":{"field":"s","type":"nominal",
     "scale":{"domain":["m1","m2","y05","o01","l05","g01"],"range":["#1f7a22","#3a78d4","#e8e33c","#f9b533","#b4e8ad","#46c14c"]},
     "legend":{"orient":"none","legendX":0,"legendY":507,"columns":3,"title":null,"fillColor":"#e6e6e6","padding":9,"labelFont":"Liberation Sans","labelFontSize":14,"labelColor":"#222","labelOffset":8,"rowPadding":8,"columnPadding":16,"symbolType":"M-1,-0.4H1V0.4H-1Z","symbolSize":110,"symbolStrokeWidth":0,"symbolOpacity":1,
      "labelExpr":"datum.label == 'm1' ? 'mean 1 (Unpred-Implaus)' : datum.label == 'm2' ? 'mean 2 (Pred-Plaus)' : datum.label == 'y05' ? 'p < 0.05\u00a0\u00a0\u00a0\u00a0\u00a0\u00a0\u00a0\u00a0\u200b' : datum.label == 'o01' ? 'p < 0.01\u00a0\u00a0\u00a0\u00a0\u00a0\u00a0\u00a0\u00a0\u200b' : datum.label == 'l05' ? 'p < 0.05' : 'p < 0.01'",
      "encode":{"symbols":{"update":{"fill":{"scale":"color","field":"value"},"stroke":{"value":"transparent"}}},"labels":{"update":{"dx":{"value":0}}}}}}}},
  {"mark":{"type":"line","strokeWidth":2},"encoding":{"y":{"field":"a","type":"quantitative","title":"[µV]"},"color":{"datum":"m1"}}},
  {"mark":{"type":"line","strokeWidth":2.2},"encoding":{"y":{"field":"b","type":"quantitative","title":"[µV]"},"color":{"datum":"m2"}}}
 ]}
}
